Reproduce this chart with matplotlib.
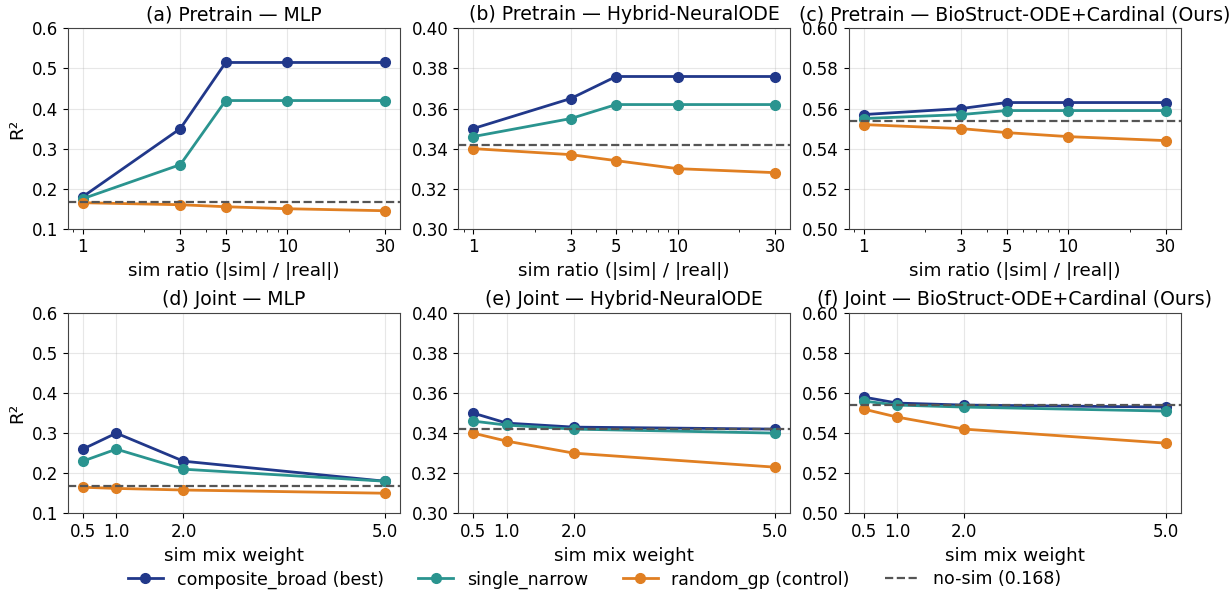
import numpy as np
import matplotlib.pyplot as plt
from matplotlib.ticker import FixedLocator, NullFormatter, MultipleLocator, FormatStrFormatter

# x values
ratios = [1, 3, 5, 10, 30]
weights = [0.5, 1.0, 2.0, 5.0]

# pretrain results (sim ratio sweep)
pre_mlp_comp = [0.18, 0.35, 0.515, 0.515, 0.515]
pre_mlp_single = [0.175, 0.26, 0.42, 0.42, 0.42]
pre_mlp_random = [0.165, 0.16, 0.155, 0.15, 0.145]

pre_hyb_comp = [0.350, 0.365, 0.376, 0.376, 0.376]
pre_hyb_single = [0.346, 0.355, 0.362, 0.362, 0.362]
pre_hyb_random = [0.340, 0.337, 0.334, 0.330, 0.328]

pre_bio_comp = [0.557, 0.560, 0.563, 0.563, 0.563]
pre_bio_single = [0.555, 0.557, 0.559, 0.559, 0.559]
pre_bio_random = [0.552, 0.550, 0.548, 0.546, 0.544]

# joint results (sim mix weight sweep)
joint_mlp_comp = [0.26, 0.30, 0.23, 0.18]
joint_mlp_single = [0.23, 0.26, 0.21, 0.18]
joint_mlp_random = [0.165, 0.162, 0.158, 0.15]

joint_hyb_comp = [0.350, 0.345, 0.343, 0.342]
joint_hyb_single = [0.346, 0.344, 0.342, 0.340]
joint_hyb_random = [0.340, 0.336, 0.330, 0.323]

joint_bio_comp = [0.558, 0.555, 0.554, 0.553]
joint_bio_single = [0.556, 0.554, 0.553, 0.551]
joint_bio_random = [0.552, 0.548, 0.542, 0.535]

# no-sim baselines per model
baseline_mlp = 0.168
baseline_hyb = 0.342
baseline_bio = 0.554

ylims = [(0.1, 0.6), (0.30, 0.40), (0.50, 0.60)]
ysteps = [0.1, 0.02, 0.02]
yfmts = ["%.1f", "%.2f", "%.2f"]
model_names = ["MLP", "Hybrid-NeuralODE", "BioStruct-ODE+Cardinal (Ours)"]

c_comp = "#21388a"
c_single = "#2a948f"
c_random = "#e07f22"

plt.rcParams['font.family'] = ['DejaVu Sans']
plt.rcParams['xtick.labelsize'] = 12
plt.rcParams['ytick.labelsize'] = 12

fig, axes = plt.subplots(2, 3, figsize=(12.3, 5.92), dpi=100)
fig.subplots_adjust(left=0.055, right=0.96, top=0.952, bottom=0.133, wspace=0.175, hspace=0.42)

pre = [
    (pre_mlp_comp, pre_mlp_single, pre_mlp_random, baseline_mlp),
    (pre_hyb_comp, pre_hyb_single, pre_hyb_random, baseline_hyb),
    (pre_bio_comp, pre_bio_single, pre_bio_random, baseline_bio),
]
joint = [
    (joint_mlp_comp, joint_mlp_single, joint_mlp_random, baseline_mlp),
    (joint_hyb_comp, joint_hyb_single, joint_hyb_random, baseline_hyb),
    (joint_bio_comp, joint_bio_single, joint_bio_random, baseline_bio),
]

letters = "abcdef"
for row, (data, xs, stage) in enumerate([(pre, ratios, "Pretrain"), (joint, weights, "Joint")]):
    for col in range(3):
        ax = axes[row, col]
        comp, single, rand, base = data[col]
        ax.plot(xs, comp, '-o', color=c_comp, lw=2, ms=7, label="composite_broad (best)")
        ax.plot(xs, single, '-o', color=c_single, lw=2, ms=7, label="single_narrow")
        ax.plot(xs, rand, '-o', color=c_random, lw=2, ms=7, label="random_gp (control)")
        ax.axhline(base, ls='--', color='#555555', lw=1.6, label="no-sim (0.168)")
        if row == 0:
            ax.set_xscale('log')
            ax.xaxis.set_major_locator(FixedLocator(ratios))
            ax.set_xticklabels([str(r) for r in ratios])
            ax.xaxis.set_minor_formatter(NullFormatter())
            ax.set_xlabel("sim ratio (|sim| / |real|)", fontsize=13.2)
        else:
            ax.set_xticks(weights)
            ax.set_xticklabels([f"{w:.1f}" for w in weights])
            ax.set_xlabel("sim mix weight", fontsize=13.2)
        ax.set_ylim(*ylims[col])
        ax.yaxis.set_major_locator(MultipleLocator(ysteps[col]))
        ax.yaxis.set_major_formatter(FormatStrFormatter(yfmts[col]))
        if col == 0:
            ax.set_ylabel("R²", fontsize=13.2)
        ax.grid(True, alpha=0.3)
        ax.set_title(f"({letters[row * 3 + col]}) {stage} — {model_names[col]}", fontsize=13.6)
        for s in ax.spines.values():
            s.set_color('#444444')

handles, labels = axes[0, 0].get_legend_handles_labels()
fig.legend(handles, labels, loc='center', ncol=4, frameon=False, fontsize=12.5,
           bbox_to_anchor=(0.4835, 0.021))

fig.savefig("out.png", dpi=100)
